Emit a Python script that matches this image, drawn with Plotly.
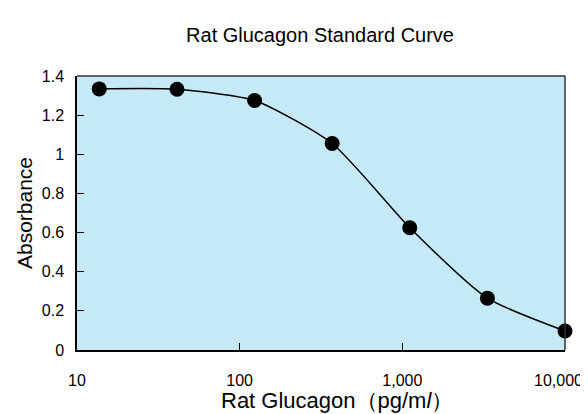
import plotly.graph_objects as go
import math

# Data
concentration = [13.7, 41.2, 123.5, 370.4, 1111.1, 3333.3, 10000]
absorbance = [1.334, 1.332, 1.275, 1.055, 0.625, 0.265, 0.097]
x_tickvals = [10, 100, 1000, 10000]
x_ticktext = ["10", "100", "1,000", "10,000"]
y_tickvals = [0, 0.2, 0.4, 0.6, 0.8, 1.0, 1.2, 1.4]
y_ticktext = ["0", "0.2", "0.4", "0.6", "0.8", "1", "1.2", "1.4"]
x_title = "Rat Glucagon\uff08pg/m<i>l</i>\uff09"
y_title = "Absorbance"
chart_title = "Rat Glucagon Standard Curve"

FONT = "Liberation Sans, Arial, sans-serif"

fig = go.Figure()
fig.add_trace(go.Scatter(
    x=concentration, y=absorbance,
    mode="lines+markers",
    line=dict(color="black", width=1.5, shape="spline", smoothing=0.6),
    marker=dict(color="black", size=15),
    cliponaxis=False,
    showlegend=False,
))

# the last tick label is drawn as an annotation, nudged inward like the reference
axis_ticktext = x_ticktext[:-1] + [""]

# page body has an 8px default margin, so the figure is 580x406 and offset
fig.update_layout(
    width=580, height=406,
    margin=dict(l=69, r=23, t=68, b=64),
    paper_bgcolor="white",
    plot_bgcolor="#c6e9f8",
    font=dict(family=FONT, color="black"),
    title=dict(text=chart_title, x=0.538, xanchor="center",
               y=0.9335, yanchor="middle", font=dict(size=20, family=FONT, color="black")),
    xaxis=dict(
        type="log", range=[1, 4], automargin=False,
        tickvals=x_tickvals, ticktext=axis_ticktext,
        ticks="inside", ticklen=7, tickcolor="black", tickwidth=1,
        showgrid=False, zeroline=False,
        showline=True, linecolor="black", linewidth=1.5, mirror=False,
        tickfont=dict(size=16, family=FONT),
        ticklabelstandoff=15,
    ),
    yaxis=dict(
        range=[0, 1.4], automargin=False,
        tickvals=y_tickvals, ticktext=y_ticktext,
        ticks="inside", ticklen=7, tickcolor="black", tickwidth=1,
        showgrid=False, zeroline=False,
        showline=True, linecolor="black", linewidth=1.5, mirror=False,
        tickfont=dict(size=16, family=FONT),
        ticklabelstandoff=8,
        title=dict(text=y_title, font=dict(size=21, family=FONT), standoff=3),
    ),
    annotations=[
        dict(text=x_ticktext[-1], xref="x", yref="paper",
             x=math.log10(x_tickvals[-1]), y=0,
             xanchor="center", yanchor="middle", xshift=-7, yshift=-30,
             showarrow=False, font=dict(size=16, family=FONT, color="black")),
        dict(text=x_title, xref="paper", yref="paper", x=0.291, y=0,
             xanchor="left", yanchor="middle", yshift=-50, showarrow=False,
             font=dict(size=22, family=FONT, color="black")),
    ],
    shapes=[
        dict(type="line", xref="paper", yref="paper", x0=0, x1=1, y0=1, y1=1,
             line=dict(color="#333333", width=1.5)),
        dict(type="line", xref="paper", yref="paper", x0=1, x1=1, y0=0, y1=1,
             line=dict(color="#333333", width=1.5)),
    ],
)

fig.write_html("out.html")
